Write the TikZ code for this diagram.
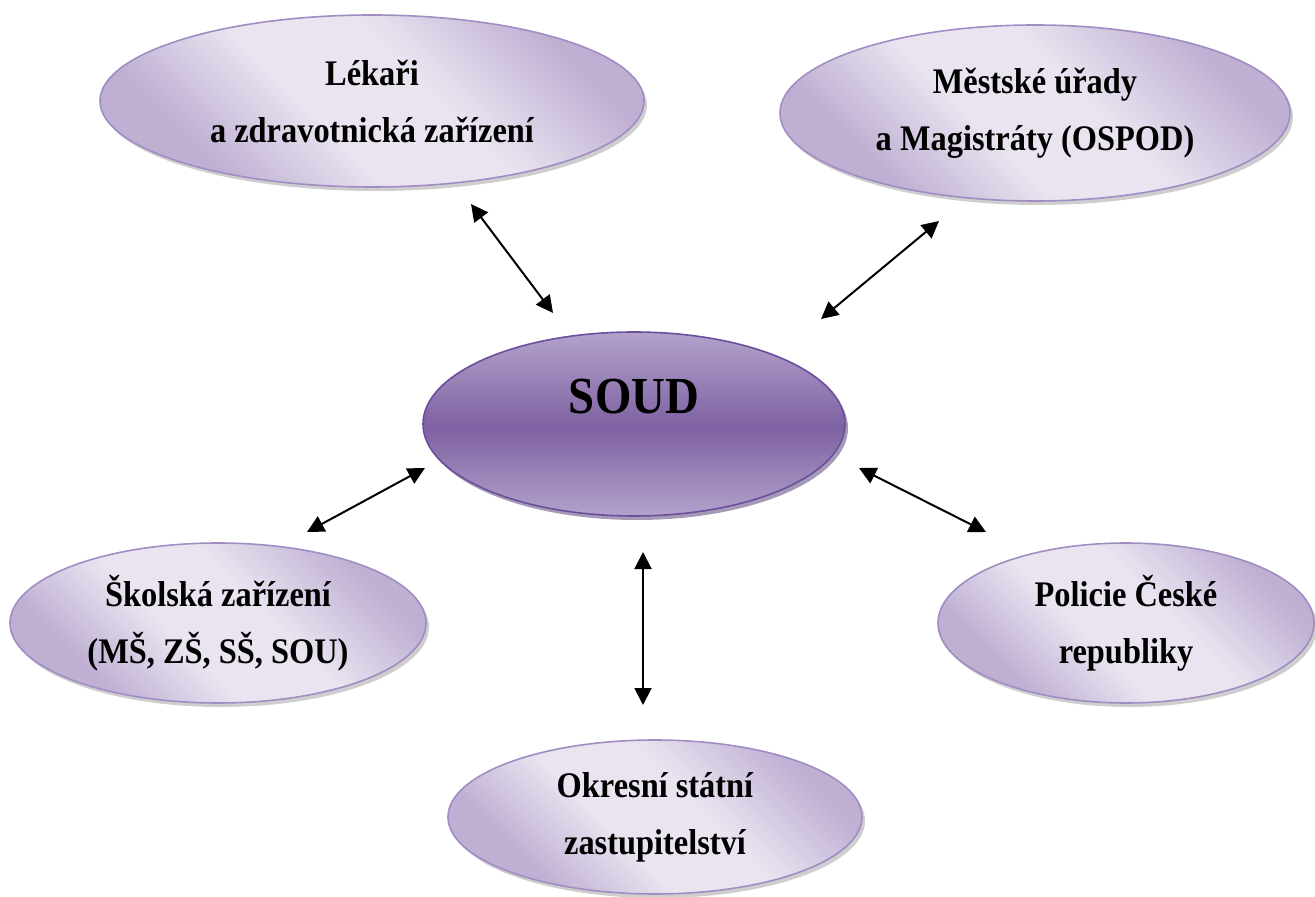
\documentclass[tikz,border=0pt]{standalone}
\usepackage{fontspec}
\setmainfont{Liberation Serif}[FakeStretch=0.9]
\usetikzlibrary{shapes.geometric,shadows,arrows.meta}
\definecolor{odark}{HTML}{BFAFD3}
\definecolor{olight}{HTML}{E9E4F0}
\definecolor{oborder}{HTML}{A08DC4}
\definecolor{sdark}{HTML}{7E61A2}
\definecolor{slight}{HTML}{B2A2CB}
\definecolor{sborder}{HTML}{6B4F9C}
\definecolor{sshadow}{HTML}{4A3570}
\pgfdeclarehorizontalshading{outershade}{100bp}{color(0bp)=(odark); color(28bp)=(odark); color(43bp)=(olight); color(57bp)=(olight); color(74bp)=(odark); color(100bp)=(odark)}
\pgfdeclareverticalshading{soudshade}{100bp}{color(0bp)=(slight); color(25bp)=(slight); color(49bp)=(sdark); color(75bp)=(slight); color(100bp)=(slight)}
\tikzset{
  outer/.style={ellipse, draw=oborder, line width=0.8pt, shading=outershade, shading angle=45,
    inner sep=0pt, align=center, font=\bfseries\fontsize{18}{28.5}\selectfont,
    drop shadow={shadow xshift=1.5pt, shadow yshift=-2pt, fill=black!38}},
  central/.style={ellipse, draw=sborder, line width=0.8pt, shading=soudshade, inner sep=0pt,
    drop shadow={shadow xshift=1.5pt, shadow yshift=-2pt, fill=sshadow}},
  link/.style={{Triangle[length=8.5pt,width=8.5pt]}-{Triangle[length=8.5pt,width=8.5pt]}, line width=1pt, black}
}
\begin{document}
\begin{tikzpicture}[x=0.5pt,y=-0.5pt]
\useasboundingbox (0,0) rectangle (1315,897);
\node[outer, minimum width=272pt, minimum height=86pt] (lek) at (372,101) {Lékaři\\a zdravotnická zařízení};
\node[outer, minimum width=255pt, minimum height=88pt] (mest) at (1035,113) {Městské úřady\\a Magistráty (OSPOD)};
\node[outer, minimum width=208pt, minimum height=80pt] (skol) at (218,623) {Školská zařízení\\(MŠ, ZŠ, SŠ, SOU)};
\node[outer, minimum width=188pt, minimum height=80pt] (pol) at (1126,623) {Policie České\\republiky};
\node[outer, minimum width=207pt, minimum height=77pt] (okr) at (655,817) {Okresní státní\\zastupitelství};
\node[central, minimum width=211pt, minimum height=92pt,
  label={[name=soudt, font=\bfseries\fontsize{26}{30}\selectfont, yshift=13.5pt]center:SOUD}] (soud) at (634,424) {};
\coordinate (l1) at (471,204); \coordinate (l2) at (553,313);
\coordinate (m1) at (939,221); \coordinate (m2) at (821,319);
\coordinate (s1) at (307,532); \coordinate (s2) at (425,468);
\coordinate (p1) at (859,468); \coordinate (p2) at (986,532);
\coordinate (o1) at (643,552); \coordinate (o2) at (643,705);
\draw[link] (l1) -- (l2);
\draw[link] (m1) -- (m2);
\draw[link] (s1) -- (s2);
\draw[link] (p1) -- (p2);
\draw[link] (o1) -- (o2);
\end{tikzpicture}
\end{document}
